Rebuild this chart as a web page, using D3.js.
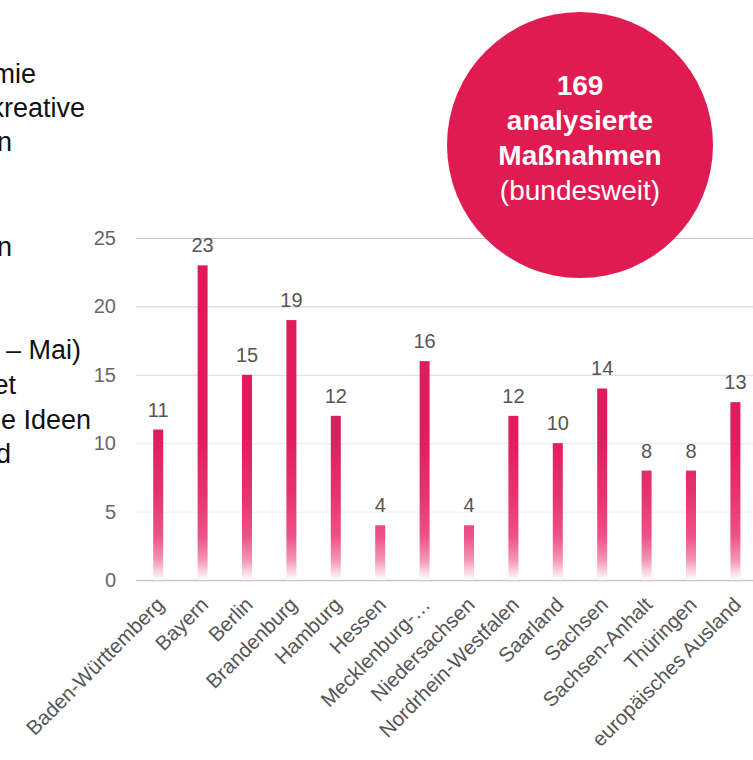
<!DOCTYPE html>
<html>
<head>
<meta charset="utf-8">
<script src="https://cdn.jsdelivr.net/npm/d3@7/dist/d3.min.js"></script>
<style>
  body { margin: 0; background: #fff; }
  svg { display: block; font-family: "Liberation Sans", Arial, sans-serif; }
</style>
</head>
<body>
<div class="chart"></div>
<script>
const states = [
  'Baden-Württemberg', 'Bayern', 'Berlin', 'Brandenburg', 'Hamburg', 'Hessen',
  'Mecklenburg-…', 'Niedersachsen', 'Nordrhein-Westfalen', 'Saarland', 'Sachsen',
  'Sachsen-Anhalt', 'Thüringen', 'europäisches Ausland'
];
const counts = [11, 23, 15, 19, 12, 4, 16, 4, 12, 10, 14, 8, 8, 13];
const yTicks = [0, 5, 10, 15, 20, 25];
const circleLines = ['169', 'analysierte', 'Maßnahmen', '(bundesweit)'];
const sideText = [
  { t: 'mie', y: 83, end: 36 },
  { t: 'kreative', y: 117, end: 85 },
  { t: 'n', y: 151, end: 12 },
  { t: 'n', y: 256, end: 12 },
  { t: '– Mai)', y: 359, end: 81 },
  { t: 'et', y: 394, end: 16 },
  { t: 'e Ideen', y: 429, end: 91 },
  { t: 'd', y: 463, end: 11 }
];

const w = 753;
const h = 760;
const margin = { top: 238, left: 136, bottom: 180 };

const svg = d3.select('.chart')
  .append('svg')
  .attr('width', w)
  .attr('height', h);

const x = d3.scaleBand()
  .domain(states)
  .range([margin.left, margin.left + 14 * 44.4]);

const y = d3.scaleLinear()
  .domain([0, 25])
  .range([h - margin.bottom, margin.top]);

// gradient shared by all bars, fading out towards the baseline
const grad = svg.append('defs')
  .append('linearGradient')
  .attr('id', 'barFade')
  .attr('gradientUnits', 'userSpaceOnUse')
  .attr('x1', 0).attr('x2', 0)
  .attr('y1', y(0)).attr('y2', y(25));
[
  [0, '#ffffff'],
  [0.06, '#f394b4'],
  [0.13, '#ee5088'],
  [0.25, '#e6336f'],
  [0.42, '#e11c5e'],
  [1, '#df1858']
].forEach(s => grad.append('stop').attr('offset', s[0]).attr('stop-color', s[1]));

// side text (cut-off slide text)
svg.append('g')
  .selectAll('text')
  .data(sideText)
  .enter()
  .append('text')
  .attr('x', d => d.end)
  .attr('y', d => d.y)
  .attr('text-anchor', 'end')
  .attr('font-size', 27)
  .attr('fill', '#111')
  .text(d => d.t);

// grid
const gridColor = { 0: '#c8c8c8', 5: '#f0f0f0', 10: '#e8e8e8', 15: '#dcdcdc', 20: '#cfcfcf', 25: '#c4c4c4' };
svg.append('g')
  .selectAll('line')
  .data(yTicks)
  .enter()
  .append('line')
  .attr('x1', margin.left)
  .attr('x2', w)
  .attr('y1', d => y(d) + 0.5)
  .attr('y2', d => y(d) + 0.5)
  .attr('stroke', d => gridColor[d])
  .attr('stroke-width', d => d === 0 ? 1.5 : 1);

// y axis labels
const yAxis = svg.append('g')
  .attr('transform', `translate(${margin.left - 20}, 0)`)
  .call(d3.axisLeft(y).tickValues(yTicks).tickSize(0).tickPadding(0));
yAxis.select('.domain').remove();
yAxis.selectAll('text')
  .attr('font-size', 20)
  .attr('font-family', '"Liberation Sans", Arial, sans-serif')
  .attr('fill', '#666');

// bars
const barW = 10;
svg.append('g')
  .selectAll('rect')
  .data(counts)
  .enter()
  .append('rect')
  .attr('x', (d, i) => x(states[i]) + x.bandwidth() / 2 - barW / 2)
  .attr('y', d => y(d))
  .attr('width', barW)
  .attr('height', d => y(0) - y(d))
  .attr('fill', 'url(#barFade)');

// value labels
svg.append('g')
  .selectAll('text')
  .data(counts)
  .enter()
  .append('text')
  .attr('x', (d, i) => x(states[i]) + x.bandwidth() / 2)
  .attr('y', d => y(d) - 13)
  .attr('text-anchor', 'middle')
  .attr('font-size', 20)
  .attr('fill', '#555')
  .text(d => d);

// x labels
const xAxis = svg.append('g')
  .attr('transform', `translate(0, ${y(0)})`)
  .call(d3.axisBottom(x).tickSize(0).tickPadding(0));
xAxis.select('.domain').remove();
xAxis.selectAll('text')
  .attr('font-size', 20.5)
  .attr('font-family', '"Liberation Sans", Arial, sans-serif')
  .attr('fill', '#555')
  .attr('text-anchor', 'end')
  .attr('dy', 0)
  .attr('y', 0)
  .attr('transform', 'translate(7, 26) rotate(-45)');

// highlight circle
const cx = 580;
const cy = 145;
svg.append('circle')
  .attr('cx', cx)
  .attr('cy', cy)
  .attr('r', 133)
  .attr('fill', '#e01b52');

svg.append('g')
  .selectAll('text')
  .data(circleLines)
  .enter()
  .append('text')
  .attr('x', cx)
  .attr('y', (d, i) => 95 + i * 35)
  .attr('text-anchor', 'middle')
  .attr('font-size', 28)
  .attr('font-weight', (d, i) => i < 3 ? 'bold' : 'normal')
  .attr('fill', '#fff')
  .text(d => d);
</script>
</body>
</html>
